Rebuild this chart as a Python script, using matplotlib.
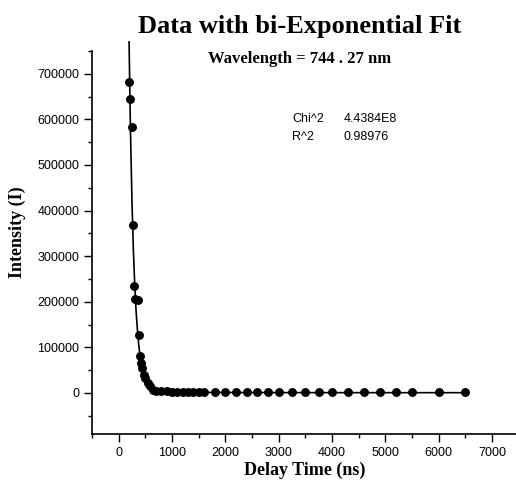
import matplotlib
matplotlib.use("Agg")
import matplotlib.pyplot as plt
from matplotlib.ticker import MultipleLocator, FixedLocator

# Measured data (delay time in ns, intensity)
delay_ns = [191, 219, 244, 268, 290, 313, 362, 375, 394, 425, 437, 469, 500, 550,
            581, 644, 700, 800, 900, 1000, 1100, 1200, 1300, 1400, 1500, 1600,
            1800, 2000, 2200, 2400, 2600, 2800, 3000, 3250, 3500, 3750, 4000,
            4300, 4600, 4900, 5200, 5500, 6000, 6500]
intensity = [683000, 645000, 583000, 369000, 234000, 205000, 203000, 128000, 82000,
             66000, 55000, 40000, 33000, 22000, 15000, 7000, 5000, 4500, 4000, 3000,
             2500, 2000, 2000, 2000, 2000, 2000, 1500, 1500, 1500, 1500, 1500, 1500,
             1500, 1500, 1500, 1500, 1500, 1500, 1500, 1500, 1500, 1500, 1500, 1500]

# Bi-exponential fit curve
fit_x = [195, 220, 250, 275, 300, 325, 350, 375, 400, 450, 500, 550, 600, 650,
         700, 800, 900, 1000, 1200, 1500, 2000, 3000, 4000, 5000, 6500]
fit_y = [770000, 582000, 418000, 316000, 241000, 183000, 140000, 107000, 82000,
         49000, 30000, 19000, 12500, 8500, 6500, 4500, 3300, 2600, 1800, 1300,
         1000, 800, 700, 650, 600]

title = "Data with bi-Exponential Fit"
subtitle = "Wavelength = 744 . 27 nm"
stat_names = ["Chi^2", "R^2"]
stat_values = ["4.4384E8", "0.98976"]
xticks = [0, 1000, 2000, 3000, 4000, 5000, 6000, 7000]
yticks = [0, 100000, 200000, 300000, 400000, 500000, 600000, 700000]

W, H = 516, 491
fig = plt.figure(figsize=(W / 100, H / 100), dpi=100)
ax = fig.add_axes([92 / W, (H - 434) / H, 1 - 92 / W, (434 - 51) / H])

ax.plot(fit_x, fit_y, color="black", lw=1.2, clip_on=False, zorder=2)
ax.plot(delay_ns, intensity, "o", color="black", ms=5.4, zorder=3)

ax.set_xlim(-500, 7450)
ax.set_ylim(-90000, 750000)
ax.xaxis.set_major_locator(FixedLocator(xticks))
ax.xaxis.set_minor_locator(MultipleLocator(500))
ax.yaxis.set_major_locator(FixedLocator(yticks))
ax.yaxis.set_minor_locator(MultipleLocator(50000))
ax.set_xticklabels([str(v) for v in xticks])
ax.set_yticklabels([str(v) for v in yticks])

for s in ["top", "right"]:
    ax.spines[s].set_visible(False)
for s in ["left", "bottom"]:
    ax.spines[s].set_linewidth(1.2)

ax.tick_params(which="major", direction="out", length=6, width=1.0,
               labelsize=9, pad=3)
ax.tick_params(which="minor", direction="out", length=3, width=1.0)
for lab in ax.get_xticklabels() + ax.get_yticklabels():
    lab.set_family("Liberation Sans")

serif = "Liberation Serif"
fig.text(300 / W, 1 - 27 / H, title, ha="center", va="center",
         fontsize=19, fontweight="bold", family=serif)
fig.text(300 / W, 1 - 59 / H, subtitle, ha="center", va="center",
         fontsize=12, fontweight="bold", family=serif)
fig.text(17 / W, 1 - 232 / H, "Intensity (I)", ha="center", va="center",
         rotation=90, fontsize=13, fontweight="bold", family=serif)
fig.text(305 / W, 1 - 470 / H, "Delay Time (ns)", ha="center", va="center",
         fontsize=13, fontweight="bold", family=serif)

ys = [119, 137]
for name, val, y in zip(stat_names, stat_values, ys):
    fig.text(292 / W, 1 - y / H, name, ha="left", va="center",
             fontsize=9, family="Liberation Sans")
    fig.text(344 / W, 1 - y / H, val, ha="left", va="center",
             fontsize=9, family="Liberation Sans")

fig.savefig("out.png", dpi=100)
